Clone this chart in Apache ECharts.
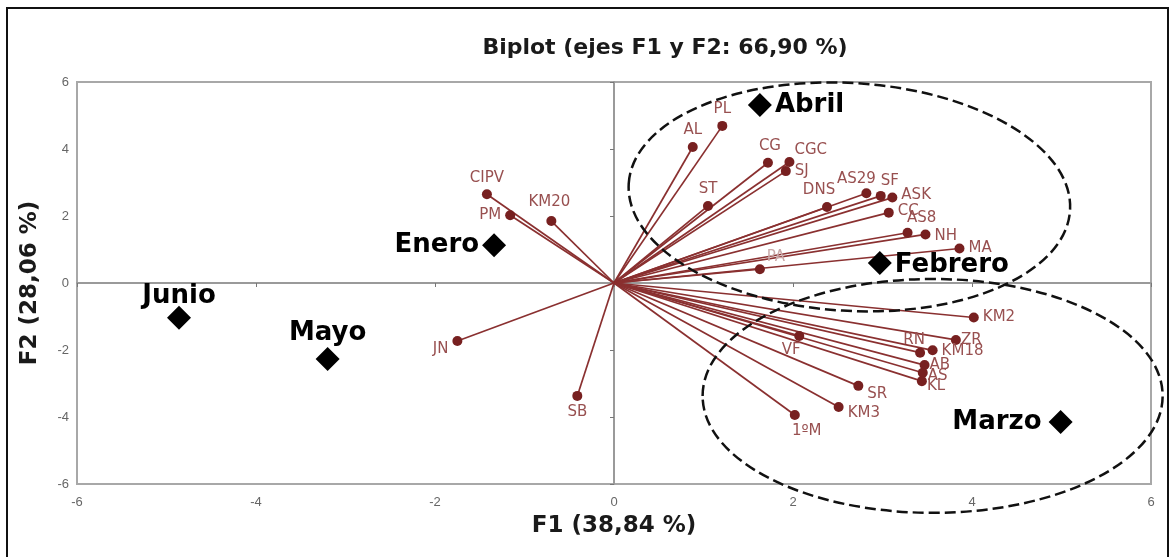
<!DOCTYPE html>
<html>
<head>
<meta charset="utf-8">
<title>Biplot</title>
<script src="https://cdn.jsdelivr.net/npm/echarts@6.0.0/dist/echarts.min.js"></script>
<style>
  html, body { margin: 0; padding: 0; background: #fff; }
  #chart { width: 1172px; height: 557px; }
</style>
</head>
<body>
<div id="chart"></div>
<script>
// variables (vectors)
const varNames = ["PL", "AL", "CG", "CGC", "SJ", "ST", "DNS", "AS29", "SF", "ASK", "CC", "AS8", "NH", "MA", "PA",
  "KM2", "ZR", "RN", "KM18", "AB", "AS", "KL", "VF", "SR", "KM3", "1ºM", "CIPV", "PM", "KM20", "JN", "SB"];
const varF1 = [1.21, 0.88, 1.72, 1.96, 1.92, 1.05, 2.38, 2.82, 2.98, 3.11, 3.07, 3.28, 3.48, 3.86, 1.63,
  4.02, 3.82, 3.42, 3.56, 3.47, 3.45, 3.44, 2.07, 2.73, 2.51, 2.02, -1.42, -1.16, -0.70, -1.75, -0.41];
const varF2 = [4.69, 4.06, 3.59, 3.61, 3.34, 2.30, 2.27, 2.68, 2.60, 2.55, 2.10, 1.50, 1.45, 1.03, 0.41,
  -1.03, -1.70, -2.08, -2.01, -2.45, -2.68, -2.93, -1.58, -3.07, -3.70, -3.94, 2.65, 2.02, 1.85, -1.73, -3.37];

// observations (months)
const obsNames = ["Abril", "Enero", "Febrero", "Junio", "Mayo", "Marzo"];
const obsF1 = [1.63, -1.34, 2.97, -4.86, -3.20, 4.99];
const obsF2 = [5.31, 1.13, 0.60, -1.04, -2.27, -4.15];

// dashed ellipses: centre and half-axes in axis units
const ellCx = [2.63, 3.56];
const ellCy = [2.57, -3.37];
const ellRx = [2.47, 2.57];
const ellRy = [3.40, 3.49];
const ellTilt = [-0.06, 0];

const axisTicks = [-6, -4, -2, 0, 2, 4, 6];

// label placement (style only)
const varLabelPlace = {
  PL: ["top", [0, 0]], AL: ["top", [0, 0]], CG: ["top", [2, 0]], CGC: ["right", [-4, -12]],
  SJ: ["right", [0, 0]], ST: ["top", [0, 0]], DNS: ["top", [-8, 0]], AS29: ["top", [-10, 2]],
  SF: ["top", [9, 2]], ASK: ["right", [0, -2]], CC: ["right", [0, -2]], AS8: ["top", [14, 2]],
  NH: ["right", [0, 2]], MA: ["right", [0, 0]], PA: ["top", [16, 4]], KM2: ["right", [0, 0]],
  ZR: ["right", [-4, 0]], RN: ["top", [-6, 4]], KM18: ["right", [0, 1]], AB: ["right", [-4, 0]],
  AS: ["right", [-4, 3]], KL: ["right", [-4, 5]], VF: ["bottom", [-8, -2]], SR: ["right", [0, 8]],
  KM3: ["right", [0, 6]], "1ºM": ["bottom", [12, 0]], CIPV: ["top", [0, 0]], PM: ["left", [0, 0]],
  KM20: ["top", [-2, -2]], JN: ["left", [0, 8]], SB: ["bottom", [0, 0]]
};
const obsLabelPlace = {
  Abril: ["right", [0, 0]], Enero: ["left", [0, 0]], Febrero: ["right", [0, 2]],
  Junio: ["top", [0, 6]], Mayo: ["top", [0, 2]], Marzo: ["left", [-4, 0]]
};

let myChart = echarts.init(document.getElementById("chart"));

let vectorData = varNames.map((n, i) => ({ coords: [[0, 0], [varF1[i], varF2[i]]] }));
let varPoints = varNames.map((n, i) => ({
  name: n,
  value: [varF1[i], varF2[i]],
  label: {
    position: varLabelPlace[n][0],
    offset: varLabelPlace[n][1],
    color: n === "PA" ? "#c9a8a8" : "#985050"
  }
}));
let obsPoints = obsNames.map((n, i) => ({
  name: n,
  value: [obsF1[i], obsF2[i]],
  label: { position: obsLabelPlace[n][0], offset: obsLabelPlace[n][1] }
}));
let ellData = ellCx.map((c, i) => [c, ellCy[i], ellRx[i], ellRy[i], ellTilt[i]]);

let hiddenAxis = {
  min: -6, max: 6, interval: 2,
  axisLine: { onZero: true, lineStyle: { color: "#9a9a9a", width: 2 } },
  axisTick: { show: true, length: 4, lineStyle: { color: "#777" } },
  axisLabel: { show: false },
  splitLine: { show: false }
};

myChart.setOption({
  animation: false,
  backgroundColor: "#fff",
  title: {
    text: "Biplot (ejes F1 y F2: 66,90 %)",
    left: 660,
    textAlign: "center",
    top: 32,
    textStyle: { fontFamily: "DejaVu Sans", fontWeight: "bold", fontSize: 22, color: "#1a1a1a" }
  },
  graphic: [
    {
      type: "rect",
      shape: { x: 7, y: 8, width: 1161, height: 560 },
      style: { fill: "none", stroke: "#111", lineWidth: 2 },
      silent: true
    }
  ],
  grid: {
    left: 77, right: 21, top: 82, bottom: 73,
    show: true, borderColor: "#a8a8a8", borderWidth: 2, backgroundColor: "transparent"
  },
  xAxis: [
    {
      type: "value", min: -6, max: 6, interval: 2,
      axisLine: { show: false }, axisTick: { show: false }, splitLine: { show: false },
      axisLabel: { color: "#666", fontSize: 13, fontFamily: "Liberation Sans", margin: 12 },
      name: "F1 (38,84 %)", nameLocation: "middle", nameGap: 31,
      nameTextStyle: { fontFamily: "DejaVu Sans", fontWeight: "bold", fontSize: 23, color: "#1a1a1a" }
    },
    Object.assign({ type: "value", position: "bottom" }, hiddenAxis)
  ],
  yAxis: [
    {
      type: "value", min: -6, max: 6, interval: 2,
      axisLine: { show: false }, axisTick: { show: false }, splitLine: { show: false },
      axisLabel: { color: "#666", fontSize: 13, fontFamily: "Liberation Sans", margin: 8 },
      name: "F2 (28,06 %)", nameLocation: "middle", nameGap: 35,
      nameTextStyle: { fontFamily: "DejaVu Sans", fontWeight: "bold", fontSize: 23, color: "#1a1a1a" }
    },
    Object.assign({ type: "value", position: "left" }, hiddenAxis)
  ],
  series: [
    {
      type: "lines",
      coordinateSystem: "cartesian2d",
      z: 3,
      silent: true,
      lineStyle: { color: "#8a3030", width: 1.7, opacity: 1 },
      data: vectorData
    },
    {
      type: "scatter",
      z: 4,
      symbol: "circle",
      symbolSize: 10,
      itemStyle: { color: "#772020", opacity: 1 },
      label: { show: true, formatter: "{b}", fontFamily: "DejaVu Sans", fontSize: 15, distance: 4 },
      data: varPoints
    },
    {
      type: "scatter",
      z: 5,
      symbol: "diamond",
      symbolSize: 24,
      itemStyle: { color: "#000", opacity: 1 },
      label: {
        show: true, formatter: "{b}", distance: 3,
        fontFamily: "DejaVu Sans", fontWeight: "bold", fontSize: 26, color: "#000"
      },
      data: obsPoints
    },
    {
      type: "custom",
      z: 6,
      silent: true,
      clip: false,
      encode: { x: 0, y: 1 },
      renderItem: function (params, api) {
        let c = api.coord([api.value(0), api.value(1)]);
        let s = api.size([api.value(2), api.value(3)]);
        return {
          type: "ellipse",
          x: c[0],
          y: c[1],
          rotation: api.value(4),
          shape: { cx: 0, cy: 0, rx: s[0], ry: s[1] },
          style: { fill: "none", stroke: "#111", lineWidth: 2.5, lineDash: [11, 5] }
        };
      },
      data: ellData
    }
  ]
});
</script>
</body>
</html>
